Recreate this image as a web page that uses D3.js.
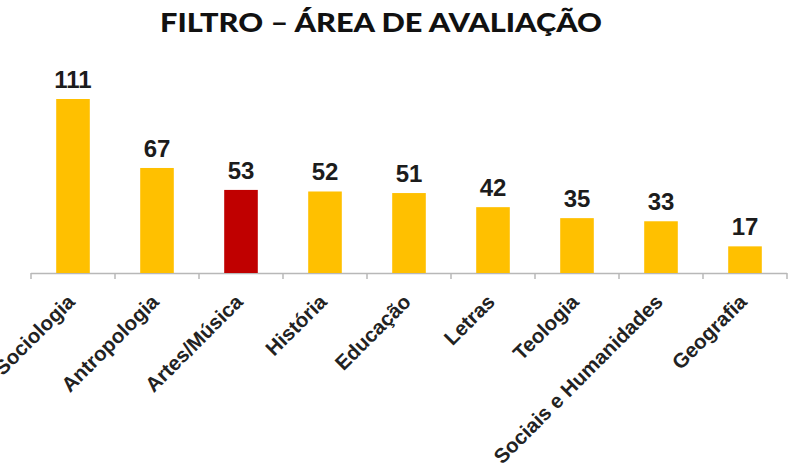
<!DOCTYPE html>
<html>
<head>
<meta charset="utf-8">
<script src="https://cdn.jsdelivr.net/npm/d3@7"></script>
<style>
	body { margin: 0; background: #fff; }
	svg { display: block; }
</style>
</head>
<body>
<div id="visual"></div>
<script>

///// DATA /////
var categories = ["Sociologia", "Antropologia", "Artes/Música", "História", "Educação",
	"Letras", "Teologia", "Sociais e Humanidades", "Geografia"];
var values = [111, 67, 53, 52, 51, 42, 35, 33, 17];
var highlighted = ["Artes/Música"];
var title = "FILTRO – ÁREA DE AVALIAÇÃO";

///// DIMENSIONS /////
var width = 803,
	height = 475;

var plot = {
	left: 31,
	right: 787,
	base: 273,
	top: 99
};

var xScale = d3.scaleBand()
	.domain(categories)
	.range([plot.left, plot.right])
	.paddingInner(0.6)
	.paddingOuter(0.3);

var yScale = d3.scaleLinear()
	.domain([0, d3.max(values)])
	.range([plot.base, plot.top]);

var svg = d3.select('#visual')
	.append('svg')
	.attr('width', width)
	.attr('height', height)
	.style('background', '#fff');

///// TITLE /////
// wide geometric face in the original, so stretch the glyphs a bit
svg.append('text')
	.attr('x', 381)
	.attr('y', 32)
	.attr('text-anchor', 'middle')
	.attr('textLength', 442)
	.attr('lengthAdjust', 'spacingAndGlyphs')
	.style('font-family', 'Lato, sans-serif')
	.style('font-weight', 900)
	.style('font-size', '26px')
	.style('fill', '#111')
	.text(title);

///// AXIS LINE + TICKS /////
var axis = svg.append('g');
axis.append('line')
	.attr('x1', plot.left).attr('x2', plot.right)
	.attr('y1', plot.base + 0.5).attr('y2', plot.base + 0.5)
	.style('stroke', '#b8b8b8')
	.style('stroke-width', 1.5);

var step = xScale.step();
var tickXs = categories.map(c => xScale(c) - step * xScale.paddingInner() / 2);
tickXs.push(plot.right);
axis.selectAll('.tick')
	.data(tickXs).enter().append('line')
	.attr('class', 'tick')
	.attr('x1', d => d).attr('x2', d => d)
	.attr('y1', plot.base).attr('y2', plot.base + 6)
	.style('stroke', '#b8b8b8')
	.style('stroke-width', 1.5);

///// BARS /////
var data = categories.map((c, i) => ({ name: c, value: values[i] }));

svg.selectAll('.bar')
	.data(data).enter().append('rect')
	.attr('class', 'bar')
	.attr('x', d => xScale(d.name))
	.attr('width', xScale.bandwidth())
	.attr('y', d => yScale(d.value))
	.attr('height', d => plot.base - yScale(d.value))
	.style('fill', d => highlighted.includes(d.name) ? '#C00000' : '#FFC000');

///// VALUE LABELS /////
svg.selectAll('.val')
	.data(data).enter().append('text')
	.attr('class', 'val')
	.attr('x', d => xScale(d.name) + xScale.bandwidth() / 2)
	.attr('y', d => yScale(d.value) - 11)
	.attr('text-anchor', 'middle')
	.style('font-family', '"Liberation Sans", Arial, sans-serif')
	.style('font-weight', 'bold')
	.style('font-size', '24px')
	.style('fill', '#1c1c1c')
	.text(d => d.value);

///// CATEGORY LABELS /////
svg.selectAll('.cat')
	.data(data).enter().append('text')
	.attr('class', 'cat')
	.attr('transform', d => `translate(${xScale(d.name) + xScale.bandwidth() / 2 - 2},${plot.base + 25}) rotate(-45)`)
	.attr('text-anchor', 'end')
	.attr('dy', '0.35em')
	.style('font-family', '"Liberation Sans", Arial, sans-serif')
	.style('font-weight', 'bold')
	.style('font-size', '20.5px')
	.style('fill', '#222')
	.text(d => d.name);

</script>
</body>
</html>
